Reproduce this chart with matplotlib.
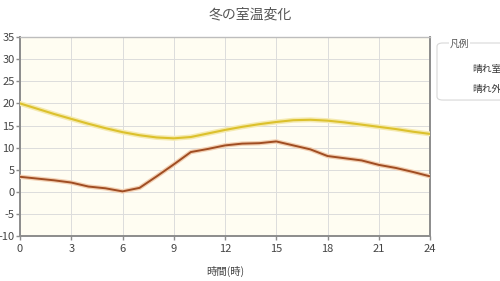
import matplotlib
matplotlib.use("Agg")
import matplotlib.pyplot as plt
import matplotlib.patheffects as pe
from matplotlib.patches import FancyBboxPatch

plt.rcParams['font.family'] = ['Noto Sans CJK JP', 'DejaVu Sans']

hours = list(range(0, 25))
indoor = [20.0, 18.8, 17.6, 16.5, 15.4, 14.4, 13.5, 12.8, 12.3, 12.1, 12.4, 13.2,
          14.0, 14.7, 15.3, 15.8, 16.2, 16.3, 16.1, 15.7, 15.2, 14.7, 14.2, 13.6, 13.1]
outdoor = [3.4, 3.0, 2.6, 2.1, 1.2, 0.8, 0.1, 0.9, 3.5, 6.2, 9.0, 9.7,
           10.5, 10.9, 11.0, 11.4, 10.5, 9.6, 8.1, 7.6, 7.1, 6.1, 5.4, 4.5, 3.5]
series_labels = ['晴れ室温', '晴れ外気温']
xticks = [0, 3, 6, 9, 12, 15, 18, 21, 24]
yticks = [-10, -5, 0, 5, 10, 15, 20, 25, 30, 35]

fig = plt.figure(figsize=(5, 2.81), dpi=100)
ax = fig.add_axes([0.04, 0.16, 0.82, 0.708])
ax.set_facecolor('#fffdf2')

ax.plot(hours, indoor, color='#dcc12c', lw=1.5,
        path_effects=[pe.Stroke(linewidth=3.6, foreground='#f5eab0'), pe.Normal()], zorder=3)
ax.plot(hours, outdoor, color='#a04d22', lw=1.4,
        path_effects=[pe.Stroke(linewidth=3.2, foreground='#f2cfb2'), pe.Normal()], zorder=3)

ax.set_xlim(0, 24)
ax.set_ylim(-10, 35)
ax.set_xticks(xticks)
ax.set_yticks(yticks)
ax.set_yticklabels([str(v) for v in yticks])
ax.grid(True, color='#dcdcdc', lw=0.7)
ax.set_axisbelow(True)
for s in ['left', 'bottom', 'right']:
    ax.spines[s].set_color('#8c8c8c')
    ax.spines[s].set_linewidth(1.4)
ax.spines['top'].set_color('#bdbdbd')
ax.spines['top'].set_linewidth(1.0)
ax.tick_params(axis='both', colors='#8c8c8c', labelcolor='#444444', labelsize=8, length=3, width=1)
ax.tick_params(axis='y', pad=1)
ax.tick_params(axis='x', pad=3)

ax.set_xlabel('時間(時)', fontsize=7.5, color='#444444', labelpad=8)
fig.text(0.5, 0.95, '冬の室温変化', ha='center', va='center', fontsize=10, color='#555555')

# legend box
box = FancyBboxPatch((0.874, 0.644), 0.2, 0.203, boxstyle='round,pad=0,rounding_size=0.012',
                     transform=fig.transFigure, facecolor='white', edgecolor='#d8d8d8', lw=0.8)
fig.patches.append(box)
fig.text(0.9, 0.845, '凡例', ha='left', va='center', fontsize=7, color='#555555',
         bbox=dict(facecolor='white', edgecolor='none', pad=0.5))
fig.text(0.944, 0.755, series_labels[0], ha='left', va='center', fontsize=7, color='#333333')
fig.text(0.944, 0.685, series_labels[1], ha='left', va='center', fontsize=7, color='#333333')

fig.savefig('out.png', dpi=100)
